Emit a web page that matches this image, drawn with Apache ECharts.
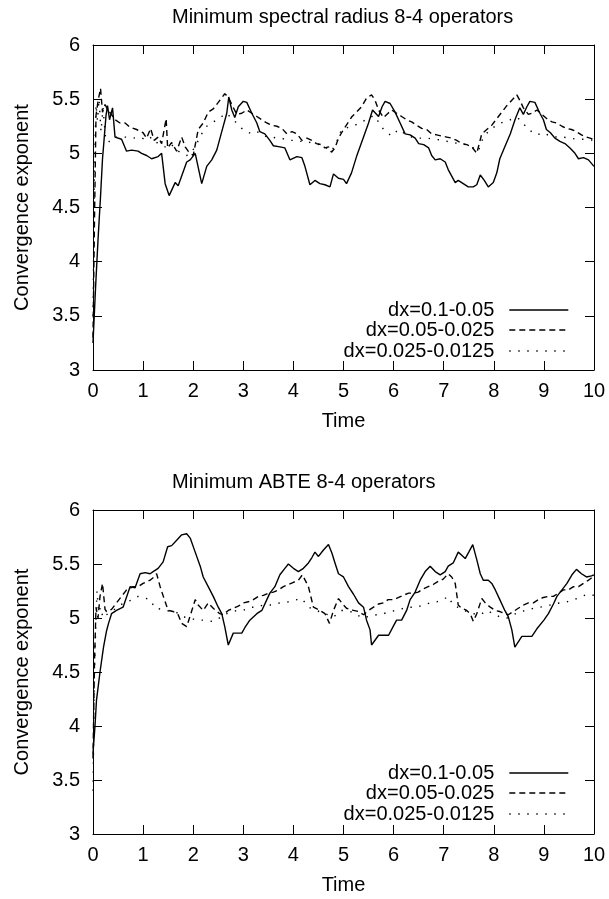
<!DOCTYPE html>
<html><head><meta charset="utf-8">
<script src="https://cdn.jsdelivr.net/npm/echarts@6/dist/echarts.min.js"></script>
<style>html,body{margin:0;padding:0;background:#fff}#c{width:609px;height:899px}</style>
</head><body><div id="c"></div>
<script>
const seriesNames = ['dx=0.1-0.05', 'dx=0.05-0.025', 'dx=0.025-0.0125'];
const titles = ['Minimum spectral radius 8-4 operators', 'Minimum ABTE 8-4 operators'];
const xTicks = [0,1,2,3,4,5,6,7,8,9,10];
const yTicks = [3,3.5,4,4.5,5,5.5,6];

const specSolid = [[0,3.25],[0.05,3.75],[0.1,4.2],[0.15,4.6],[0.19,4.95],[0.22,5.12],[0.26,5.35],[0.29,5.44],[0.33,5.31],[0.39,5.42],[0.44,5.15],[0.57,5.13],[0.67,5.02],[0.77,5.03],[0.9,5.02],[0.97,5.0],[1.07,4.98],[1.17,4.95],[1.3,4.97],[1.37,5.0],[1.44,4.72],[1.52,4.61],[1.64,4.73],[1.7,4.7],[1.77,4.79],[1.87,4.92],[1.94,4.94],[2.04,5.0],[2.17,4.72],[2.27,4.88],[2.37,4.94],[2.47,5.03],[2.57,5.2],[2.67,5.37],[2.71,5.52],[2.77,5.4],[2.83,5.33],[2.9,5.43],[3.0,5.48],[3.07,5.47],[3.17,5.37],[3.27,5.28],[3.33,5.2],[3.43,5.18],[3.53,5.12],[3.6,5.07],[3.73,5.06],[3.83,5.05],[3.93,4.94],[4.07,4.97],[4.17,4.96],[4.23,4.88],[4.33,4.71],[4.43,4.75],[4.53,4.72],[4.63,4.71],[4.73,4.69],[4.8,4.81],[4.9,4.77],[5.0,4.76],[5.06,4.72],[5.16,4.82],[5.26,4.97],[5.4,5.15],[5.5,5.28],[5.58,5.4],[5.7,5.34],[5.77,5.43],[5.83,5.48],[5.93,5.46],[6.03,5.38],[6.13,5.28],[6.23,5.18],[6.33,5.17],[6.43,5.14],[6.5,5.09],[6.6,5.08],[6.7,5.05],[6.76,4.98],[6.83,4.94],[6.93,4.95],[7.03,4.92],[7.09,4.85],[7.16,4.79],[7.23,4.73],[7.29,4.75],[7.39,4.72],[7.49,4.69],[7.59,4.69],[7.66,4.71],[7.73,4.8],[7.81,4.75],[7.89,4.69],[7.99,4.73],[8.06,4.82],[8.12,4.95],[8.22,5.06],[8.33,5.18],[8.43,5.32],[8.52,5.42],[8.59,5.36],[8.66,5.43],[8.72,5.48],[8.82,5.47],[8.92,5.37],[8.99,5.31],[9.05,5.22],[9.13,5.19],[9.22,5.14],[9.32,5.11],[9.42,5.09],[9.52,5.05],[9.62,5.0],[9.69,4.95],[9.79,4.96],[9.89,4.94],[10,4.88]];
const specDashed = [[0,3.3],[0.03,4.4],[0.06,5.35],[0.1,5.48],[0.15,5.6],[0.19,5.38],[0.24,5.45],[0.3,5.4],[0.38,5.35],[0.44,5.31],[0.54,5.28],[0.64,5.28],[0.74,5.24],[0.87,5.22],[1.0,5.19],[1.07,5.14],[1.15,5.23],[1.22,5.12],[1.3,5.15],[1.37,5.09],[1.46,5.32],[1.49,5.05],[1.57,5.1],[1.67,5.02],[1.77,5.15],[1.84,5.06],[1.9,5.02],[2.0,4.98],[2.1,5.22],[2.2,5.28],[2.3,5.38],[2.4,5.41],[2.5,5.47],[2.63,5.55],[2.7,5.52],[2.77,5.45],[2.87,5.36],[2.97,5.37],[3.07,5.4],[3.17,5.37],[3.27,5.34],[3.37,5.31],[3.47,5.28],[3.57,5.26],[3.67,5.25],[3.77,5.23],[3.87,5.18],[3.97,5.2],[4.07,5.18],[4.17,5.12],[4.27,5.14],[4.37,5.12],[4.46,5.09],[4.56,5.08],[4.63,5.05],[4.7,5.06],[4.76,5.01],[4.83,5.05],[4.9,5.14],[5.0,5.22],[5.1,5.29],[5.17,5.34],[5.26,5.38],[5.36,5.43],[5.46,5.51],[5.56,5.54],[5.63,5.49],[5.7,5.4],[5.8,5.33],[5.89,5.37],[5.96,5.4],[6.06,5.37],[6.16,5.34],[6.26,5.31],[6.36,5.29],[6.46,5.26],[6.56,5.23],[6.66,5.22],[6.76,5.18],[6.86,5.17],[6.96,5.16],[7.06,5.15],[7.16,5.14],[7.26,5.12],[7.36,5.09],[7.46,5.08],[7.56,5.06],[7.66,5.0],[7.76,5.18],[7.86,5.22],[7.96,5.26],[8.06,5.32],[8.16,5.38],[8.26,5.44],[8.36,5.49],[8.46,5.54],[8.53,5.48],[8.59,5.42],[8.69,5.36],[8.76,5.37],[8.86,5.4],[8.96,5.36],[9.06,5.32],[9.16,5.29],[9.26,5.28],[9.36,5.25],[9.45,5.23],[9.55,5.22],[9.65,5.2],[9.75,5.17],[9.85,5.15],[10,5.13]];
const specDotted = [[0,3.5],[0.03,4.9],[0.06,5.45],[0.09,5.3],[0.12,5.5],[0.16,5.2],[0.2,5.42],[0.25,5.15],[0.3,5.1],[0.41,5.15],[0.54,5.15],[0.67,5.15],[0.8,5.14],[0.94,5.15],[1.07,5.12],[1.17,5.15],[1.27,5.1],[1.37,5.08],[1.47,5.05],[1.57,5.08],[1.67,5.03],[1.77,5.0],[1.87,4.98],[1.97,5.01],[2.07,5.09],[2.17,5.18],[2.27,5.25],[2.37,5.28],[2.47,5.31],[2.57,5.34],[2.67,5.37],[2.77,5.32],[2.87,5.28],[2.97,5.23],[3.07,5.2],[3.17,5.18],[3.27,5.2],[3.37,5.18],[3.47,5.15],[3.57,5.15],[3.67,5.14],[3.77,5.14],[3.87,5.12],[4.0,5.12],[4.13,5.11],[4.27,5.11],[4.4,5.09],[4.53,5.08],[4.66,5.05],[4.76,5.02],[4.86,5.1],[4.96,5.22],[5.1,5.24],[5.23,5.26],[5.36,5.29],[5.5,5.32],[5.6,5.35],[5.7,5.29],[5.8,5.22],[5.96,5.16],[6.1,5.22],[6.23,5.18],[6.36,5.15],[6.5,5.14],[6.66,5.14],[6.83,5.13],[6.99,5.12],[7.16,5.1],[7.33,5.09],[7.46,5.08],[7.59,5.05],[7.69,5.02],[7.79,5.15],[7.93,5.22],[8.06,5.26],[8.19,5.29],[8.33,5.31],[8.46,5.33],[8.56,5.3],[8.66,5.23],[8.79,5.19],[8.86,5.17],[8.99,5.19],[9.12,5.16],[9.26,5.15],[9.39,5.15],[9.52,5.14],[9.66,5.13],[9.79,5.13],[10,5.12]];

const abteSolid = [[0,3.75],[0.04,4.0],[0.07,4.24],[0.14,4.5],[0.21,4.73],[0.27,4.88],[0.31,4.95],[0.37,5.04],[0.47,5.07],[0.6,5.1],[0.74,5.29],[0.84,5.28],[0.94,5.41],[1.04,5.42],[1.14,5.41],[1.2,5.43],[1.3,5.46],[1.4,5.52],[1.49,5.66],[1.57,5.67],[1.67,5.72],[1.77,5.77],[1.87,5.78],[1.94,5.74],[2.04,5.61],[2.14,5.48],[2.2,5.38],[2.3,5.29],[2.4,5.2],[2.5,5.1],[2.57,5.04],[2.63,4.92],[2.7,4.75],[2.8,4.86],[2.97,4.86],[3.03,4.91],[3.13,4.98],[3.27,5.04],[3.37,5.07],[3.47,5.17],[3.53,5.23],[3.63,5.29],[3.73,5.4],[3.83,5.46],[3.9,5.5],[4.0,5.46],[4.1,5.43],[4.2,5.46],[4.3,5.51],[4.37,5.56],[4.43,5.61],[4.5,5.57],[4.6,5.63],[4.7,5.68],[4.77,5.6],[4.83,5.51],[4.9,5.41],[5.0,5.38],[5.1,5.29],[5.2,5.22],[5.3,5.14],[5.4,5.1],[5.46,4.98],[5.53,4.89],[5.56,4.75],[5.7,4.84],[5.9,4.84],[5.99,4.92],[6.06,4.98],[6.16,4.98],[6.26,5.07],[6.33,5.17],[6.43,5.24],[6.53,5.35],[6.63,5.43],[6.73,5.48],[6.83,5.43],[6.93,5.4],[7.03,5.43],[7.09,5.48],[7.19,5.51],[7.29,5.61],[7.36,5.58],[7.43,5.55],[7.5,5.61],[7.58,5.68],[7.66,5.54],[7.73,5.41],[7.79,5.35],[7.89,5.35],[7.96,5.32],[8.03,5.26],[8.12,5.17],[8.22,5.07],[8.29,5.01],[8.36,4.89],[8.42,4.73],[8.56,4.83],[8.76,4.83],[8.86,4.9],[9.0,4.98],[9.09,5.04],[9.19,5.13],[9.26,5.2],[9.36,5.26],[9.46,5.32],[9.56,5.4],[9.65,5.45],[9.75,5.41],[9.85,5.38],[9.95,5.39],[10,5.4]];
const abteDashed = [[0,3.7],[0.03,4.6],[0.06,5.1],[0.1,5.0],[0.14,5.2],[0.19,5.32],[0.24,5.08],[0.27,5.06],[0.37,5.08],[0.47,5.14],[0.57,5.2],[0.67,5.26],[0.8,5.29],[0.9,5.29],[1.0,5.32],[1.14,5.35],[1.22,5.38],[1.27,5.41],[1.34,5.29],[1.44,5.15],[1.5,5.07],[1.6,5.06],[1.7,5.03],[1.77,4.95],[1.87,4.92],[1.94,5.02],[2.04,5.17],[2.1,5.12],[2.2,5.07],[2.3,5.14],[2.4,5.09],[2.53,5.04],[2.6,5.03],[2.7,5.07],[2.8,5.09],[2.9,5.11],[3.0,5.14],[3.1,5.15],[3.2,5.17],[3.3,5.2],[3.4,5.21],[3.5,5.23],[3.6,5.24],[3.7,5.26],[3.8,5.29],[3.9,5.31],[4.0,5.33],[4.1,5.35],[4.18,5.4],[4.3,5.29],[4.4,5.1],[4.53,5.07],[4.63,5.04],[4.72,4.95],[4.8,5.07],[4.9,5.18],[5.0,5.12],[5.06,5.09],[5.2,5.07],[5.3,5.06],[5.4,5.03],[5.5,5.07],[5.6,5.1],[5.7,5.13],[5.8,5.14],[5.89,5.17],[6.0,5.17],[6.1,5.19],[6.19,5.21],[6.3,5.23],[6.4,5.23],[6.49,5.24],[6.59,5.27],[6.69,5.29],[6.79,5.31],[6.89,5.34],[6.99,5.36],[7.09,5.41],[7.16,5.38],[7.23,5.32],[7.29,5.12],[7.36,5.09],[7.46,5.07],[7.53,5.04],[7.59,4.97],[7.66,5.04],[7.76,5.18],[7.83,5.14],[7.93,5.1],[8.03,5.07],[8.12,5.06],[8.22,5.04],[8.29,5.03],[8.39,5.06],[8.49,5.09],[8.59,5.12],[8.69,5.14],[8.79,5.14],[8.89,5.17],[8.99,5.19],[9.09,5.2],[9.19,5.2],[9.29,5.23],[9.39,5.26],[9.49,5.26],[9.59,5.29],[9.69,5.29],[9.79,5.32],[9.89,5.35],[10,5.39]];
const abteDotted = [[0,3.4],[0.03,4.5],[0.06,5.0],[0.08,5.25],[0.11,5.05],[0.15,5.1],[0.2,5.0],[0.27,5.03],[0.4,5.07],[0.54,5.12],[0.67,5.15],[0.8,5.17],[0.9,5.2],[1.0,5.19],[1.14,5.17],[1.24,5.09],[1.4,5.08],[1.54,5.06],[1.67,5.05],[1.8,5.01],[1.94,5.0],[2.07,4.98],[2.2,4.98],[2.37,4.97],[2.47,4.98],[2.6,5.03],[2.74,5.05],[2.87,5.07],[3.0,5.07],[3.13,5.1],[3.27,5.1],[3.4,5.12],[3.57,5.12],[3.73,5.14],[3.9,5.15],[4.07,5.17],[4.17,5.18],[4.3,5.1],[4.46,5.07],[4.63,5.04],[4.8,5.01],[4.96,5.07],[5.06,5.07],[5.2,5.05],[5.26,5.03],[5.4,5.0],[5.53,5.02],[5.66,5.03],[5.8,5.04],[5.93,5.06],[6.06,5.07],[6.2,5.09],[6.33,5.1],[6.46,5.1],[6.59,5.12],[6.73,5.14],[6.86,5.15],[6.99,5.17],[7.09,5.2],[7.19,5.12],[7.33,5.09],[7.46,5.06],[7.59,5.04],[7.73,5.03],[7.86,5.07],[7.99,5.04],[8.12,5.01],[8.26,5.0],[8.39,5.03],[8.52,5.06],[8.66,5.07],[8.79,5.09],[8.92,5.1],[9.06,5.11],[9.19,5.13],[9.32,5.14],[9.46,5.15],[9.59,5.17],[9.72,5.19],[9.86,5.22],[10,5.21]];

const FONT = 'Liberation Sans';
const FS = 20;
const panels = [
  {top: 45, height: 325, title: titles[0], data: [specSolid, specDashed, specDotted], legendTops: [300, 320, 341]},
  {top: 510, height: 324, title: titles[1], data: [abteSolid, abteDashed, abteDotted], legendTops: [763, 783, 804]}
];
const lineTypes = ['solid', [6, 4], [1.4, 7.6]];

const option = {
  animation: false,
  backgroundColor: '#fff',
  textStyle: {fontFamily: FONT, color: '#000'},
  title: [], grid: [], xAxis: [], yAxis: [], series: [], legend: []
};

panels.forEach((p, i) => {
  option.title.push({text: p.title, left: 167, top: p.top - 43,
    textStyle: {fontFamily: FONT, fontSize: FS, fontWeight: 'normal', color: '#000'}});
  option.grid.push({left: 93, top: p.top, width: 501, height: p.height});
  const axisLine = {show: true, onZero: false, lineStyle: {color: '#000', width: 1}};
  const tick = {show: true, inside: true, length: 9, lineStyle: {color: '#000', width: 1}};
  option.xAxis.push({type: 'value', gridIndex: i, min: xTicks[0], max: xTicks[xTicks.length - 1], interval: 1,
    position: 'bottom', axisLine, axisTick: tick, splitLine: {show: false},
    axisLabel: {fontFamily: FONT, fontSize: FS, color: '#000', margin: 11},
    name: 'Time', nameLocation: 'middle', nameGap: 41,
    nameTextStyle: {fontFamily: FONT, fontSize: FS, color: '#000'}});
  option.xAxis.push({type: 'value', gridIndex: i, min: xTicks[0], max: xTicks[xTicks.length - 1], interval: 1,
    position: 'top', axisLine, axisTick: tick, splitLine: {show: false}, axisLabel: {show: false}});
  option.yAxis.push({type: 'value', gridIndex: i, min: yTicks[0], max: yTicks[yTicks.length - 1], interval: 0.5,
    position: 'left', axisLine, axisTick: tick, splitLine: {show: false},
    axisLabel: {fontFamily: FONT, fontSize: FS, color: '#000', margin: 13},
    name: 'Convergence exponent', nameLocation: 'middle', nameGap: 61,
    nameTextStyle: {fontFamily: FONT, fontSize: FS, color: '#000'}});
  option.yAxis.push({type: 'value', gridIndex: i, min: yTicks[0], max: yTicks[yTicks.length - 1], interval: 0.5,
    position: 'right', axisLine, axisTick: tick, splitLine: {show: false}, axisLabel: {show: false}});
  p.data.forEach((d, k) => {
    option.series.push({type: 'line', name: seriesNames[k], xAxisIndex: 2 * i, yAxisIndex: 2 * i,
      data: d, symbol: 'none', clip: true,
      lineStyle: {color: '#000', width: 1.4, type: lineTypes[k]}, itemStyle: {color: '#000'}});
    option.legend.push({data: [seriesNames[k]], right: 40, top: p.legendTops[k], align: 'right',
      padding: 0, itemWidth: 59, itemHeight: 20, selectedMode: false,
      itemStyle: {color: 'rgba(0,0,0,0)', borderColor: 'rgba(0,0,0,0)', borderWidth: 0, opacity: 0},
      lineStyle: {color: '#000', width: 1.4, type: lineTypes[k]},
      textStyle: {fontFamily: FONT, fontSize: FS, color: '#000', padding: [0, 10, 0, 0]}});
  });
});

const chart = echarts.init(document.getElementById('c'), null, {renderer: 'canvas'});
chart.setOption(option);
</script></body></html>
